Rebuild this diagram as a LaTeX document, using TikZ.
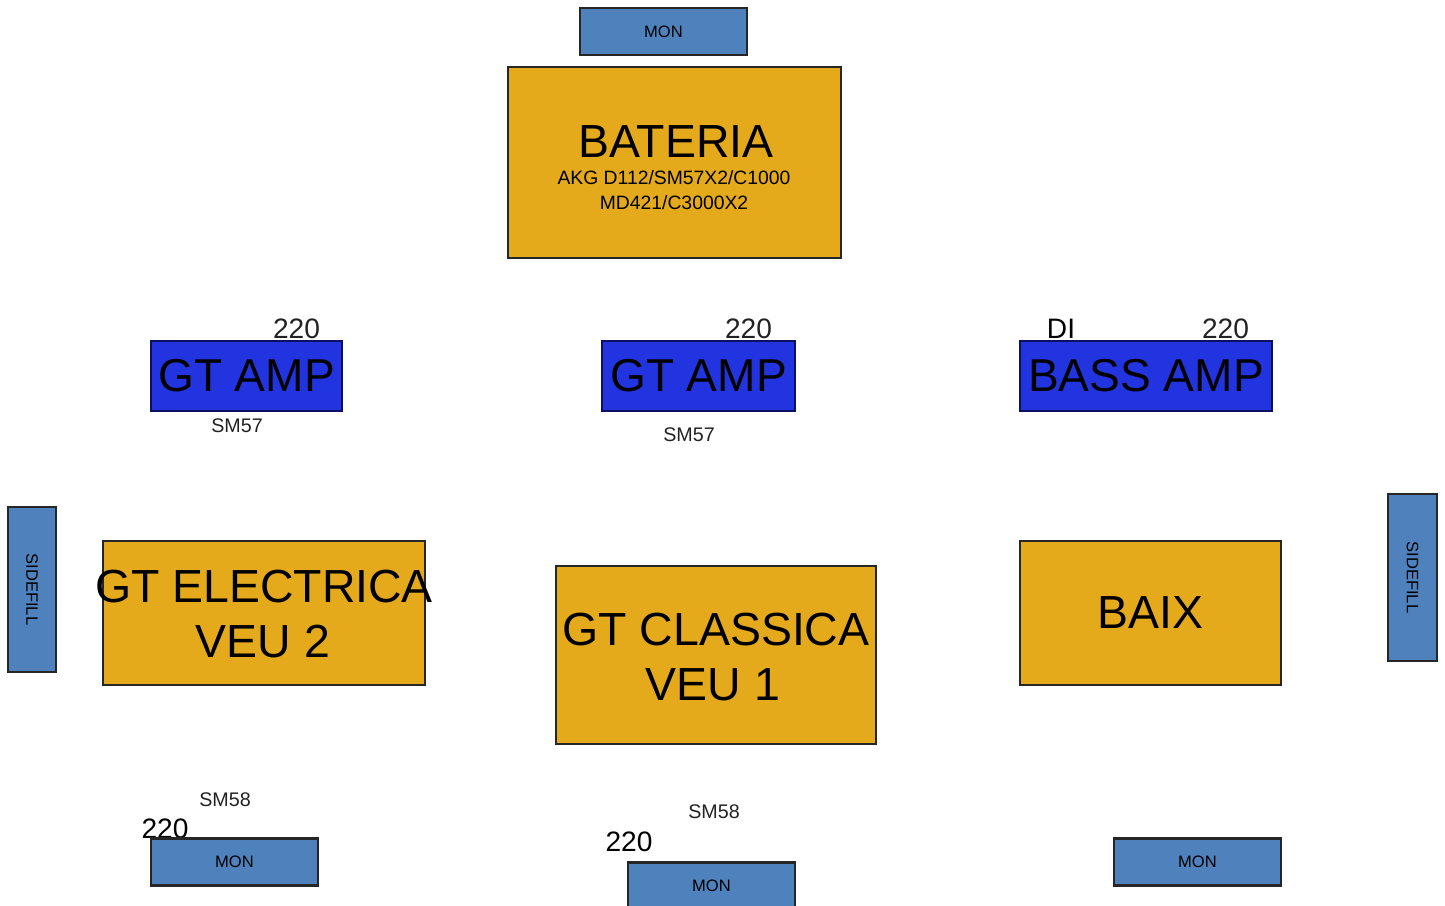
\documentclass[tikz,border=0pt]{standalone}
\usepackage{fontspec}
\setmainfont{Liberation Sans}
\usetikzlibrary{positioning}
\definecolor{stagegold}{HTML}{E4AA1C}
\definecolor{ampblue}{HTML}{2233E0}
\definecolor{ampline}{HTML}{0B1160}
\definecolor{monblue}{HTML}{4F81BD}
\definecolor{boxline}{HTML}{262626}
\definecolor{labelgray}{HTML}{222222}

\begin{document}
\begin{tikzpicture}[x=0.01cm,y=-0.01cm,
    goldbox/.style={draw=boxline,line width=0.6pt,fill=stagegold,inner sep=0pt},
    ampbox/.style={draw=ampline,line width=0.6pt,fill=ampblue,inner sep=0pt,minimum height=0.70cm,font=\fontsize{13.1}{15}\selectfont},
    monbox/.style={draw=boxline,line width=0.6pt,fill=monblue,inner sep=0pt,minimum width=1.67cm,minimum height=0.47cm,font=\fontsize{4.7}{6}\selectfont},
    bigtext/.style={inner sep=0pt,anchor=base,font=\fontsize{13.2}{15}\selectfont},
    numtext/.style={inner sep=0pt,anchor=base,text=labelgray,font=\fontsize{8}{9}\selectfont},
    mictext/.style={inner sep=0pt,anchor=base,text=labelgray,font=\fontsize{5.6}{7}\selectfont}]
    \useasboundingbox (0,0) rectangle (1445,905);

    % drums
    \node[monbox] (montop) at (663.5,31.5) {MON};
    \node[goldbox,minimum width=3.33cm,minimum height=1.91cm] (bateria) at (674.5,162.5) {};
    \node[bigtext] (baterianame) at (676,157) {BATERIA};
    \node[mictext,text=black,font=\fontsize{5.5}{7}\selectfont] (bateriamics) at (674,184) {AKG D112/SM57X2/C1000};
    \node[mictext,text=black,font=\fontsize{5.5}{7}\selectfont] (bateriamicsb) at (674,209) {MD421/C3000X2};

    % amps
    \node[ampbox,minimum width=1.91cm] (gtampleft) at (246.5,376) {GT AMP};
    \node[ampbox,minimum width=1.93cm] (gtampmid) at (698.5,376) {GT AMP};
    \node[ampbox,minimum width=2.52cm] (bassamp) at (1146,376) {BASS AMP};
    \node[numtext] (powerleft) at (296.5,338) {220};
    \node[numtext] (powermid) at (748.5,338) {220};
    \node[numtext] (powerbass) at (1225.5,338) {220};
    \node[numtext,text=black] (dibass) at (1061,338) {DI};
    \node[mictext] (micleft) at (237,432) {SM57};
    \node[mictext] (micmid) at (689,441) {SM57};

    % sidefills
    \node[monbox,minimum width=1.65cm,minimum height=0.48cm,rotate=-90] (sideleft) at (32,589.5) {SIDEFILL};
    \node[monbox,minimum width=1.67cm,minimum height=0.49cm,rotate=-90] (sideright) at (1412.5,577.5) {SIDEFILL};

    % front line
    \node[goldbox,minimum width=3.22cm,minimum height=1.44cm] (electrica) at (264,613) {};
    \node[bigtext] (electricaname) at (264,602) {GT ELECTRICA};
    \node[bigtext] (electricaveu) at (263,657) {VEU 2};
    \node[goldbox,minimum width=3.20cm,minimum height=1.78cm] (classica) at (716,655) {};
    \node[bigtext] (classicaname) at (716,645) {GT CLASSICA};
    \node[bigtext] (classicaveu) at (713,700) {VEU 1};
    \node[goldbox,minimum width=2.61cm,minimum height=1.44cm,font=\fontsize{13.2}{15}\selectfont] (baix) at (1150.5,613) {BAIX};

    % wedges
    \node[mictext] (vocleft) at (225,806) {SM58};
    \node[numtext,text=black] (powervocleft) at (165,838) {220};
    \node[monbox] (monleft) at (234.5,862) {MON};
    \node[mictext] (vocmid) at (714,818) {SM58};
    \node[numtext,text=black] (powervocmid) at (629,851) {220};
    \node[monbox] (monmid) at (711.5,886) {MON};
    \node[monbox] (monright) at (1197.5,862) {MON};
\end{tikzpicture}
\end{document}
